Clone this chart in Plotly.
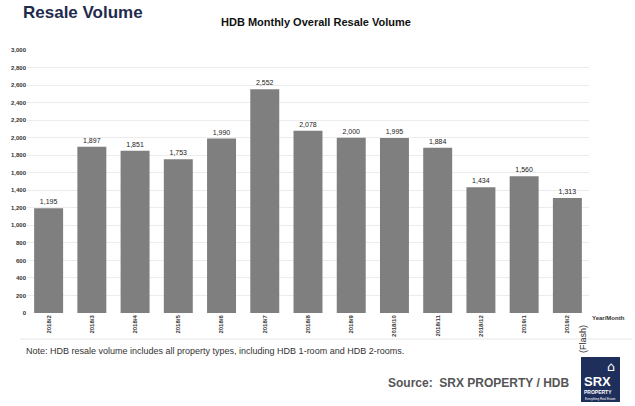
import plotly.graph_objects as go

months = ["2018/2", "2018/3", "2018/4", "2018/5", "2018/6", "2018/7", "2018/8",
          "2018/9", "2018/10", "2018/11", "2018/12", "2019/1", "2019/2"]
volumes = [1195, 1897, 1851, 1753, 1990, 2552, 2078, 2000, 1995, 1884, 1434, 1560, 1313]
y_ticks = list(range(0, 3001, 200))

W, H = 635, 406
L, R, T, B = 27, 46, 50, 93
PW, PH = W - L - R, H - T - B


def px(x):
    return (x - L) / PW


def py(y):
    return (H - B - y) / PH


fig = go.Figure()
fig.add_trace(go.Bar(
    x=months, y=volumes,
    marker=dict(color="#7f7f7f", line=dict(width=0)),
    width=0.67,
    text=[f"{v:,}" for v in volumes],
    textposition="outside",
    textfont=dict(family="Arial", size=7, color="#222222"),
    cliponaxis=False,
    hoverinfo="skip",
))

fig.update_layout(
    width=W, height=H,
    margin=dict(l=L, r=R, t=T, b=B),
    paper_bgcolor="white", plot_bgcolor="white",
    showlegend=False,
    xaxis=dict(
        type="category",
        tickangle=-90,
        tickvals=months,
        ticktext=[f"<b>{m}</b>" for m in months],
        tickfont=dict(family="Arial", size=6, color="#333333"),
        showgrid=False, showline=False, ticks="",
    ),
    yaxis=dict(
        range=[0, 3000],
        tickvals=y_ticks,
        ticktext=[f"<b>{v:,}</b>" for v in y_ticks],
        tickfont=dict(family="Arial", size=6, color="#333333"),
        showgrid=True, gridcolor="#ececec", gridwidth=1,
        zeroline=False, showline=False, ticks="",
    ),
    annotations=[
        dict(text="<b>Resale Volume</b>", xref="paper", yref="paper",
             x=px(21), y=py(12), xanchor="left", yanchor="middle",
             showarrow=False, font=dict(family="Arial", size=17, color="#1f2b4d")),
        dict(text="<b>HDB Monthly Overall Resale Volume</b>", xref="paper", yref="paper",
             x=px(316), y=py(22), xanchor="center", yanchor="middle",
             showarrow=False, font=dict(family="Arial", size=11, color="#111111")),
        dict(text="<b>Year/Month</b>", xref="paper", yref="paper",
             x=px(590), y=py(318), xanchor="left", yanchor="middle",
             showarrow=False, font=dict(family="Arial", size=6, color="#333333")),
        dict(text="(Flash)", xref="paper", yref="paper",
             x=px(583), y=py(339), xanchor="center", yanchor="middle",
             textangle=-90, showarrow=False,
             font=dict(family="Arial", size=9, color="#333333")),
        dict(text="Note: HDB resale volume includes all property types, including HDB 1-room and HDB 2-rooms.",
             xref="paper", yref="paper", x=px(24), y=py(351),
             xanchor="left", yanchor="middle", showarrow=False,
             font=dict(family="Arial", size=9, color="#333333")),
        dict(text="<b>Source:  SRX PROPERTY / HDB</b>", xref="paper", yref="paper",
             x=px(571), y=py(383), xanchor="right", yanchor="middle",
             showarrow=False, font=dict(family="Arial", size=12, color="#555555")),
        dict(text="<b>SRX</b>", xref="paper", yref="paper",
             x=px(582), y=py(381), xanchor="left", yanchor="middle",
             showarrow=False, font=dict(family="Arial", size=13, color="white")),
        dict(text="<b>PROPERTY</b>", xref="paper", yref="paper",
             x=px(582), y=py(392), xanchor="left", yanchor="middle",
             showarrow=False, font=dict(family="Arial", size=5, color="white")),
        dict(text="Everything Real Estate", xref="paper", yref="paper",
             x=px(600), y=py(399), xanchor="center", yanchor="middle",
             showarrow=False, font=dict(family="Arial", size=3, color="white")),
        dict(text="⌂", xref="paper", yref="paper",
             x=px(611), y=py(366), xanchor="center", yanchor="middle",
             showarrow=False, font=dict(family="DejaVu Sans", size=13, color="white")),
    ],
    shapes=[
        dict(type="line", xref="paper", yref="paper", x0=px(20), x1=px(632),
             y0=py(339), y1=py(339), line=dict(color="#e6e6e6", width=1)),
        dict(type="rect", xref="paper", yref="paper", x0=px(581), x1=px(620),
             y0=py(357), y1=py(402), line=dict(width=0), fillcolor="#1f2f5c"),
    ],
)

fig.write_html("out.html", config={"displayModeBar": False},
               post_script="document.body.style.margin='0';")
